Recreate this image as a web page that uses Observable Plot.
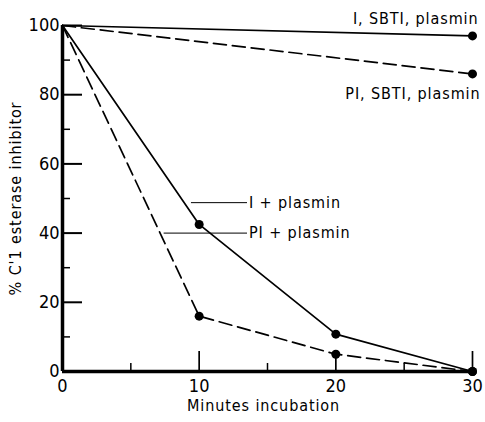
<!DOCTYPE html>
<html>
<head>
<meta charset="utf-8">
<script src="https://cdn.jsdelivr.net/npm/d3@7"></script>
<script src="https://cdn.jsdelivr.net/npm/@observablehq/plot@0.6"></script>
<style>
  body { margin: 0; background: #fff; }
  svg .spaced, svg .spaced text { letter-spacing: 0.9px; }
</style>
</head>
<body>
<div id="chart"></div>
<script>
// Data
const minutes = [0, 10, 20, 30];
const seriesNames = ["I, SBTI, plasmin", "PI, SBTI, plasmin", "I + plasmin", "PI + plasmin"];
const iSbti = [100, null, null, 97];
const piSbti = [100, null, null, 86];
const iPlasmin = [100, 42.5, 10.8, 0];
const piPlasmin = [100, 16, 5, 0];
const dashed = [false, true, false, true];
const xTickLabels = [0, 10, 20, 30];
const xMinorTicks = [5, 15, 25];
const yTickLabels = [0, 20, 40, 60, 80, 100];
const yMinorTicks = [10, 30, 50, 70, 90];
// annotation label anchors (data units)
const leaderLabels = ["I + plasmin", "PI + plasmin"];
const leaderStartX = [9.4, 7.4];
const leaderEndX = [13.5, 13.5];
const leaderY = [48.8, 40];
const yTitle = "% C'1 esterase inhibitor";
const xTitle = "Minutes incubation";

const allSeries = [iSbti, piSbti, iPlasmin, piPlasmin];
const rows = [];
allSeries.forEach((vals, s) => {
  vals.forEach((v, i) => {
    if (v != null) rows.push({series: seriesNames[s], x: minutes[i], y: v, first: i === 0});
  });
});
const leaders = leaderLabels.map((t, i) => ({label: t, x1: leaderStartX[i], x2: leaderEndX[i], y: leaderY[i]}));

const W = 485, H = 422, mL = 62, mR = 13, mT = 25, mB = 51;
const plotW = W - mL - mR, plotH = H - mT - mB;
const FONT = "'Liberation Sans Narrow', 'DejaVu Sans Condensed', sans-serif";

const marks = [];
seriesNames.forEach((name, s) => {
  marks.push(Plot.line(rows.filter(d => d.series === name), {
    x: "x", y: "y", stroke: "black", strokeWidth: 1.7,
    strokeDasharray: dashed[s] ? "13,6" : null
  }));
});
marks.push(
  Plot.dot(rows.filter(d => !d.first), {x: "x", y: "y", r: 4.5, fill: "black"}),
  // axis lines
  Plot.ruleX([0], {stroke: "black", strokeWidth: 3.5}),
  Plot.ruleY([0], {stroke: "black", strokeWidth: 3.5}),
  // inward ticks
  Plot.tickY(yTickLabels.slice(1), {y: d => d, stroke: "black", strokeWidth: 2, insetRight: plotW - 20}),
  Plot.tickY(yMinorTicks, {y: d => d, stroke: "black", strokeWidth: 1.5, insetRight: plotW - 8}),
  Plot.tickX(xTickLabels.slice(1), {x: d => d, stroke: "black", strokeWidth: 1.7, insetTop: plotH - 20}),
  Plot.tickX(xMinorTicks, {x: d => d, stroke: "black", strokeWidth: 1.5, insetTop: plotH - 8}),
  Plot.axisY(yTickLabels, {tickSize: 0, tickPadding: 3, fontSize: 18, label: null, tickFormat: d => String(d)}),
  Plot.axisX(xTickLabels, {tickSize: 0, tickPadding: 8, fontSize: 18, label: null, tickFormat: d => String(d)}),
  // leader lines and labels
  Plot.link(leaders, {x1: "x1", x2: "x2", y1: "y", y2: "y", stroke: "black", strokeWidth: 1}),
  Plot.text(leaders, {x: "x2", y: "y", text: "label", textAnchor: "start", dx: 2, fontSize: 16, fill: "black", className: "spaced"}),
  Plot.text([{x: 30, y: 97, t: seriesNames[0]}], {x: "x", y: "y", text: "t", textAnchor: "end", dx: 6, dy: -17, fontSize: 16, fill: "black", className: "spaced"}),
  Plot.text([{x: 30, y: 86, t: seriesNames[1]}], {x: "x", y: "y", text: "t", textAnchor: "end", dx: 8, dy: 20, fontSize: 16, fill: "black", className: "spaced"}),
  // axis titles
  Plot.text([{x: 0, y: 50, t: yTitle}], {x: "x", y: "y", text: "t", dx: -47, rotate: -90, fontSize: 16, fill: "black", className: "spaced"}),
  Plot.text([xTitle], {frameAnchor: "bottom", dy: 39, dx: -4, fontSize: 16, fill: "black", className: "spaced"})
);

const chart = Plot.plot({
  width: W, height: H,
  marginLeft: mL, marginRight: mR, marginTop: mT, marginBottom: mB,
  x: {domain: [0, 30]},
  y: {domain: [0, 100]},
  style: {background: "white", color: "black", fontFamily: FONT},
  marks
});
document.getElementById("chart").appendChild(chart);
</script>
</body>
</html>
